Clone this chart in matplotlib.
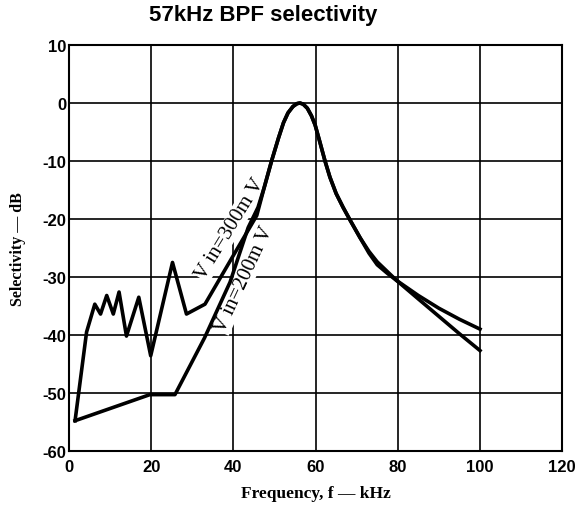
import matplotlib
matplotlib.use('Agg')
import matplotlib.pyplot as plt

plt.rcParams['axes.unicode_minus'] = False

# Vin = 300 mV curve
f_300 = [1.5, 4.3, 6.3, 7.7, 9.2, 10.8, 12.2, 14.0, 17.0, 19.9, 25.2, 28.6, 33.1,
         40, 45.7, 47.5, 49.3, 51, 52.2, 53.3, 54.5, 55.5, 56.2, 57, 58, 59, 59.9,
         61, 62.3, 63.5, 65, 66.7, 68.4, 70.8, 73, 75, 77.5, 79.7, 85, 90, 95, 100]
s_300 = [-54.8, -39.5, -34.7, -36.4, -33.2, -36.4, -32.6, -40.2, -33.5, -43.6, -27.5, -36.4, -34.7,
         -26.3, -19.4, -14.6, -10, -6, -3.4, -1.7, -0.6, -0.1, 0, -0.2, -0.9, -2.2, -3.8,
         -6.6, -10, -12.8, -15.6, -18, -20.2, -23.2, -25.6, -27.4, -29.1, -30.6, -33.2, -35.4, -37.3, -39]

# Vin = 200 mV curve
f_200 = [1.5, 19.7, 25.8, 33, 39.2, 43.6, 46, 47.5, 49.3, 51, 52.2, 53.3, 54.5, 55.5, 56.2,
         57, 58, 59, 59.9, 61, 62.3, 63.5, 65, 66.7, 68.4, 70.8, 73, 75, 77.5, 79.7,
         85, 90, 95, 100]
s_200 = [-54.8, -50.3, -50.3, -40.5, -30.9, -21.5, -18, -14.6, -10, -6, -3.4, -1.7, -0.6, -0.1, 0,
         -0.2, -0.9, -2.2, -3.8, -6.6, -10, -12.8, -15.6, -18, -20.2, -23.2, -25.9, -27.9, -29.4, -30.6,
         -33.8, -36.8, -39.8, -42.7]

xticks = [0, 20, 40, 60, 80, 100, 120]
yticks = [10, 0, -10, -20, -30, -40, -50, -60]

fig = plt.figure(figsize=(5.79, 5.06), dpi=100)
ax = fig.add_axes([0.119, 0.107, 0.852, 0.802])

ax.plot(f_300, s_300, color='black', lw=2.6, zorder=3)
ax.plot(f_200, s_200, color='black', lw=2.6, zorder=3)

ax.set_xlim(0, 120)
ax.set_ylim(-60, 10)
ax.set_xticks(xticks)
ax.set_yticks(yticks)
ax.set_xticklabels([str(t) for t in xticks], fontfamily='Liberation Sans', fontweight='bold', fontsize=12)
ax.set_yticklabels([str(t) for t in yticks], fontfamily='Liberation Sans', fontweight='bold', fontsize=12)
ax.tick_params(length=0)
ax.tick_params(axis='x', pad=6)
ax.tick_params(axis='y', pad=2)
ax.grid(True, color='black', lw=1.2, zorder=0)
ax.set_axisbelow(True)
for sp in ax.spines.values():
    sp.set_linewidth(1.5)

ax.set_xlabel('Frequency, f — kHz', fontfamily='Liberation Serif', fontweight='bold', fontsize=12.5, labelpad=8)
ax.set_ylabel('Selectivity — dB', fontfamily='Liberation Serif', fontweight='bold', fontsize=11.5, labelpad=12)

fig.text(0.454, 0.97, '57kHz BPF selectivity', ha='center', va='center',
         fontfamily='Liberation Sans', fontweight='bold', fontsize=16)

box = dict(facecolor='white', edgecolor='none', pad=0.5)
ax.text(39.3, -21.6, 'V in=300m V', rotation=58.5, rotation_mode='anchor', ha='center', va='center',
        fontfamily='Liberation Serif', fontsize=15, bbox=box, zorder=2)
ax.text(42.6, -30.3, 'V in=200m V', rotation=65, rotation_mode='anchor', ha='center', va='center',
        fontfamily='Liberation Serif', fontsize=15, bbox=box, zorder=2)

fig.savefig('out.png', dpi=100)
